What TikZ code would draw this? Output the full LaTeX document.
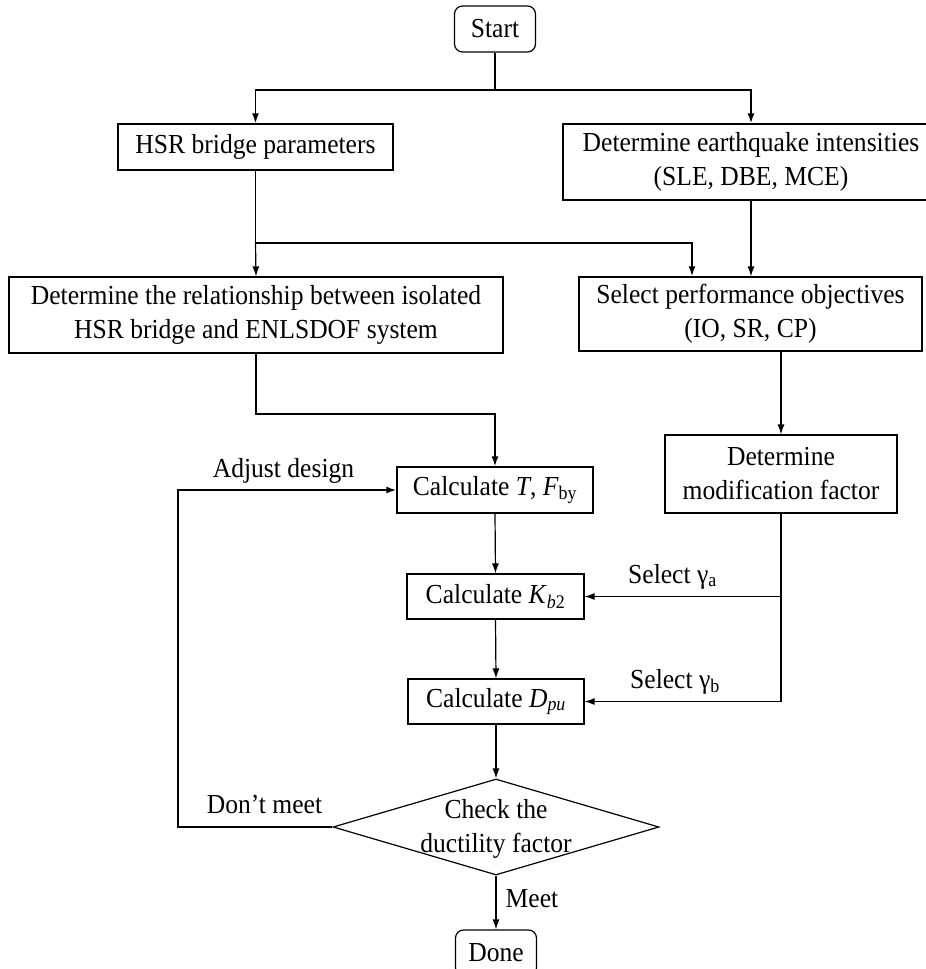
\documentclass[tikz,border=0pt]{standalone}
\usepackage{fontspec}
\setmainfont{Liberation Serif}[FakeStretch=0.93]
\usetikzlibrary{arrows.meta,shapes.geometric,calc}
\begin{document}
\begin{tikzpicture}[x=1pt,y=-1pt,
  every node/.style={font=\fontsize{27.5}{34}\selectfont},
  box/.style={draw,line width=1.2pt,rectangle,inner sep=0pt,align=center},
  term/.style={box,rounded corners=8pt},
  lbl/.style={anchor=base,inner sep=0pt},
  arr/.style={line width=1.2pt,-{Latex[length=10pt,width=7pt]}},
  ln/.style={line width=1.2pt},
  thk/.style={line width=1.8pt}]
\useasboundingbox (0,0) rectangle (926,969);
\clip (0,0) rectangle (926,969);
\fill[white] (0,0) rectangle (926,969);
% nodes
\node[term,minimum width=81pt,minimum height=46pt] (start) at (495,29) {Start};
\node[box,minimum width=275pt,minimum height=46pt] (hsr) at (255.5,147) {HSR bridge parameters};
\node[box,minimum width=376pt,minimum height=76pt] (eq) at (751,162) {Determine earthquake intensities\\(SLE, DBE, MCE)};
\node[box,minimum width=494pt,minimum height=76pt] (rel) at (256,315) {Determine the relationship between isolated\\HSR bridge and ENLSDOF system};
\node[box,minimum width=343pt,minimum height=74pt] (sel) at (750.5,314) {Select performance objectives\\(IO, SR, CP)};
\node[box,minimum width=232pt,minimum height=78pt] (mod) at (781,474) {Determine\\modification factor};
\node[box,minimum width=196pt,minimum height=46pt] (calcT) at (495,490) {Calculate \textit{T}, \textit{F}\textsubscript{by}};
\node[box,minimum width=177pt,minimum height=45pt] (kb) at (495.5,596.5) {Calculate \textit{K}\textsubscript{\textit{b}2}};
\node[box,minimum width=176pt,minimum height=45pt] (dpu) at (496,701.5) {Calculate \textit{D}\textsubscript{\textit{pu}}};
\node[draw,line width=1.2pt,diamond,inner sep=0pt,minimum width=326pt,minimum height=96pt] (dia) at (496,827) {};
\node[align=center,inner sep=0pt] (diatext) at (496,829) {Check the\\ductility factor};
\node[term,minimum width=81pt,minimum height=46pt] (done) at (496,953) {Done};
% labels
\node[lbl] (ladj) at (283.5,477) {Adjust design};
\node[lbl] (lga) at (672.5,583) {Select γ\textsubscript{a}};
\node[lbl] (lgb) at (675,688) {Select γ\textsubscript{b}};
\node[lbl] (ldm) at (264.5,813) {Don’t meet};
\node[lbl] (lmeet) at (532,907) {Meet};
% junction coordinates
\coordinate (j1) at (495,90);
\coordinate (j2) at (255.5,243);
\coordinate (j2r) at (692,243);
\coordinate (j3) at (495,414);
\coordinate (fb) at (178,827);
% connectors
\draw[ln] (start.south) -- (j1);
\draw[arr,thk] (j1) -| (hsr.north);
\draw[arr,thk] (j1) -| (eq.north);
\draw[ln] (hsr.south) -- (j2);
\draw[arr] (j2) -- (rel.north);
\draw[arr,thk] (j2) -- (j2r) -- (j2r |- sel.north);
\draw[arr] (eq.south) -- (eq.south |- sel.north);
\draw[arr,thk] (rel.south) |- (j3) -- (calcT.north);
\draw[arr] (mod.north |- sel.south) -- (mod.north);
\draw[arr] (calcT.south) -- (kb.north);
\draw[arr] (kb.south) -- (dpu.north);
\draw[arr] (dpu.south) -- (dia.north);
\draw[arr] (dia.south) -- (done.north);
\draw[thk] (mod.south) -- (mod.south |- dpu.east);
\draw[arr] (mod.south |- kb.east) -- (kb.east);
\draw[arr] (mod.south |- dpu.east) -- (dpu.east);
\draw[arr,thk] (dia.west) -- (fb) |- (calcT.west);
\end{tikzpicture}
\end{document}
